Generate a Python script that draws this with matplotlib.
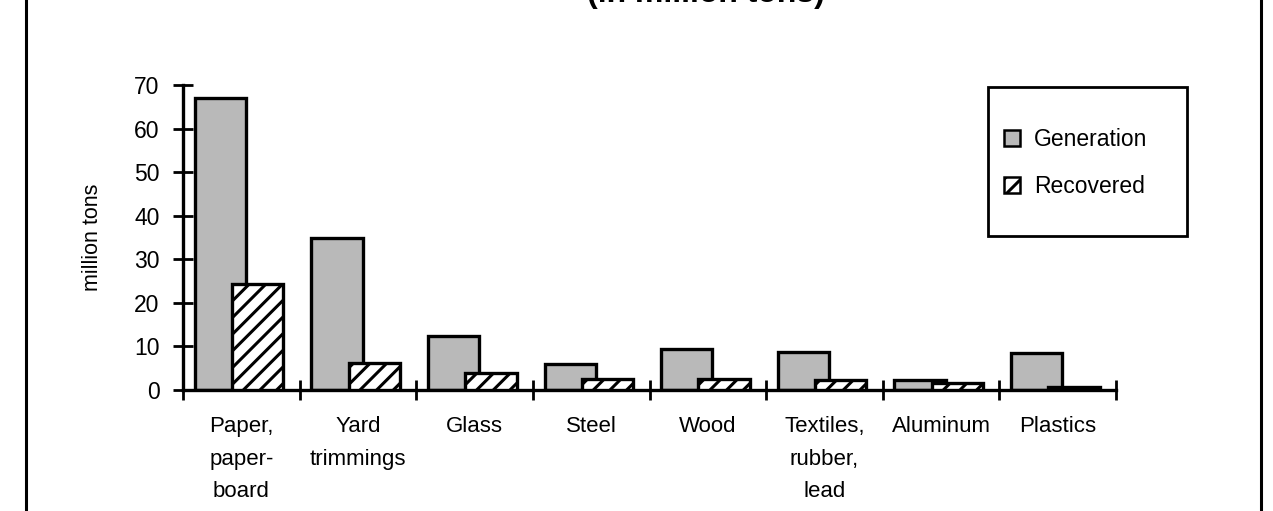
import matplotlib
matplotlib.use("Agg")
import matplotlib.pyplot as plt
from matplotlib.patches import Rectangle, Patch
from matplotlib.lines import Line2D
import numpy as np

plt.rcParams['font.family'] = ['Liberation Sans', 'DejaVu Sans']
plt.rcParams['hatch.linewidth'] = 2.2

# data (million tons)
categories = ["Paper,\npaper-\nboard", "Yard\ntrimmings", "Glass", "Steel",
              "Wood", "Textiles,\nrubber,\nlead", "Aluminum", "Plastics"]
generation = [67.0, 35.0, 12.4, 5.9, 9.5, 8.8, 2.4, 8.6]
recovered = [24.4, 6.2, 3.9, 2.6, 2.6, 2.2, 1.5, 0.8]
yticks = [0, 10, 20, 30, 40, 50, 60, 70]

W, H = 1273, 511
fig = plt.figure(figsize=(W / 100, H / 100), dpi=100)
ax = fig.add_axes([183 / W, 1 - 390 / H, 933 / W, 305 / H])

x = np.arange(len(categories))
bw = 0.44
ax.bar(x + 0.32, generation, bw, color='#b9b9b9', edgecolor='black',
       linewidth=2.4, zorder=2)
ax.bar(x + 0.64, recovered, bw, color='white', edgecolor='black',
       hatch='//', linewidth=2.4, zorder=3)

ax.set_xlim(0, len(categories))
ax.set_ylim(0, 70)

# category labels between the boundary ticks
ax.set_xticks(x + 0.5)
ax.set_xticklabels(categories, fontsize=16, linespacing=1.72)
ax.set_xticks(np.arange(len(categories) + 1), minor=True)
ax.tick_params(axis='x', which='major', length=0, pad=19)
ax.tick_params(axis='x', which='minor', direction='inout', length=14, width=2)

ax.set_yticks(yticks)
ax.tick_params(axis='y', direction='inout', length=14, width=2, pad=10,
               labelsize=16.5)

for side in ['top', 'right']:
    ax.spines[side].set_visible(False)
for side in ['left', 'bottom']:
    ax.spines[side].set_linewidth(2.4)

ax.set_ylabel("million tons", fontsize=15.5)
ax.yaxis.set_label_coords(-0.086, 0.5)

# legend box
fig.patches.append(Rectangle((988 / W, 1 - 236 / H), 199 / W, 149 / H,
                             transform=fig.transFigure, fill=False,
                             edgecolor='black', linewidth=2))
handles = [Patch(facecolor='#b9b9b9', edgecolor='black', linewidth=1.8),
           Patch(facecolor='white', edgecolor='black', hatch='//', linewidth=1.8)]
fig.legend(handles, ["Generation", "Recovered"], loc='upper left',
           bbox_to_anchor=(1004 / W, 1 - 128 / H), frameon=False, fontsize=16.5,
           handlelength=0.7, handleheight=0.7, handletextpad=0.6,
           labelspacing=1.05, borderpad=0, borderaxespad=0)

# outer frame, top and bottom run off the page
fig.lines.append(Line2D([26 / W, 26 / W], [0, 1], transform=fig.transFigure,
                        color='black', linewidth=2.2))
fig.lines.append(Line2D([1261 / W, 1261 / W], [0, 1], transform=fig.transFigure,
                        color='black', linewidth=2.2))

# title, mostly cut off at the top edge
fig.text(706 / W, 1 - 2 / H, "(in million tons)", ha='center', va='baseline',
         fontsize=23, fontweight='bold')

fig.savefig("out.png", dpi=100)
